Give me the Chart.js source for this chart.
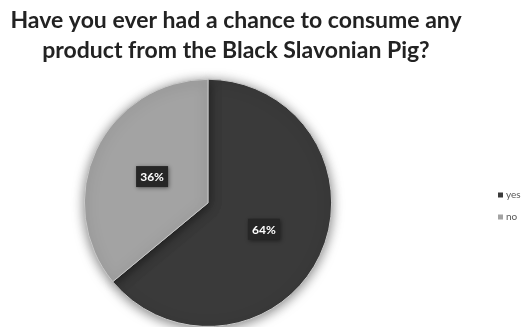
<!DOCTYPE html>
<html>
<head>
<meta charset="utf-8">
<script src="https://cdn.jsdelivr.net/npm/chart.js@4"></script>
<style>
  html, body { margin: 0; padding: 0; background: #fff; }
  #wrap { width: 525px; height: 327px; }
</style>
</head>
<body>
<div id="wrap"><canvas id="pig-chart"></canvas></div>
<script>
const answers = ['yes', 'no'];
const shares = [64, 36];
const sliceColors = ['#3a3a3a', '#a3a3a3'];
const titleLines = ['Have you ever had a chance to consume any', 'product from the Black Slavonian Pig?'];

// title spans more width than the pie area
const wideTitle = {
    id: 'wideTitle',
    afterLayout(chart) {
        if (chart.titleBlock) {
            chart.titleBlock.left = 0;
            chart.titleBlock.right = chart.width - 53;
            chart.titleBlock.width = chart.titleBlock.right;
        }
    }
};

// soft shadow under the pie
const pieShadow = {
    id: 'pieShadow',
    beforeDatasetsDraw(chart) {
        const ctx = chart.ctx;
        ctx.save();
        ctx.shadowColor = 'rgba(0, 0, 0, 0.5)';
        ctx.shadowBlur = 12;
        ctx.shadowOffsetY = 2;
    },
    afterDatasetsDraw(chart) {
        chart.ctx.restore();
    }
};

// percentage labels in dark boxes on each slice
const sliceLabels = {
    id: 'sliceLabels',
    afterDatasetsDraw(chart) {
        const ctx = chart.ctx;
        const meta = chart.getDatasetMeta(0);
        ctx.save();
        ctx.font = 'bold 12px Lato';
        ctx.textAlign = 'center';
        ctx.textBaseline = 'middle';
        meta.data.forEach((arc, i) => {
            const pos = arc.tooltipPosition();
            const text = shares[i] + '%';
            const w = 32, h = 21;
            ctx.shadowColor = 'rgba(0, 0, 0, 0.45)';
            ctx.shadowBlur = 4;
            ctx.shadowOffsetX = 1;
            ctx.shadowOffsetY = 1;
            ctx.fillStyle = '#262626';
            ctx.fillRect(pos.x - w / 2, pos.y - h / 2, w, h);
            ctx.shadowColor = 'transparent';
            ctx.fillStyle = '#ffffff';
            ctx.fillText(text, pos.x, pos.y + 1);
        });
        ctx.restore();
    }
};

// small legend on the right side
const sideLegend = {
    id: 'sideLegend',
    afterDraw(chart) {
        const ctx = chart.ctx;
        ctx.save();
        ctx.font = '10px Lato';
        ctx.textBaseline = 'middle';
        answers.forEach((label, i) => {
            const y = 195 + i * 22;
            ctx.fillStyle = sliceColors[i];
            ctx.fillRect(498, y - 2.5, 5, 5);
            ctx.fillStyle = '#595959';
            ctx.fillText(label, 506, y);
        });
        ctx.restore();
    }
};

function renderPieChart() {
    let ctx = document.getElementById('pig-chart');
    new Chart(ctx, {
        type: 'pie',
        data: {
            labels: answers,
            datasets: [{
                data: shares,
                backgroundColor: sliceColors,
                borderColor: '#c8c8c8',
                borderWidth: 1
            }]
        },
        options: {
            responsive: true,
            maintainAspectRatio: false,
            animation: false,
            layout: { padding: { left: 0, right: 109, top: 0, bottom: 0 } },
            plugins: {
                legend: { display: false },
                tooltip: { enabled: false },
                title: {
                    display: true,
                    text: titleLines,
                    color: '#222222',
                    font: { family: 'Lato', size: 23, weight: 'bold', lineHeight: 1.3 },
                    padding: { top: 6, bottom: 13 }
                }
            }
        },
        plugins: [wideTitle, pieShadow, sliceLabels, sideLegend]
    });
}

renderPieChart();
</script>
</body>
</html>
